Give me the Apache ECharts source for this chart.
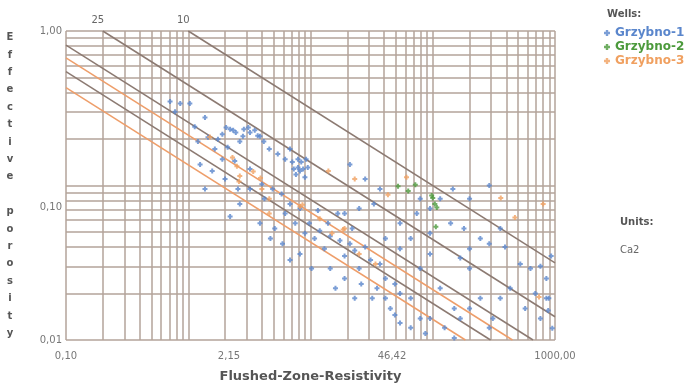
<!DOCTYPE html>
<html>
<head>
<meta charset="utf-8">
<script src="https://cdn.jsdelivr.net/npm/echarts@6/dist/echarts.min.js"></script>
<style>
  html, body { margin: 0; padding: 0; background: #ffffff; }
  #chart { width: 685px; height: 388px; }
</style>
</head>
<body>
<div id="chart"></div>
<script>
// Axis tick values (log scale, thirds of the 0.1–1000 range) and grid positions
const xTickValues = [0.1, 2.1544, 46.4159, 1000];
const yTickValues = [0.01, 0.1, 1];
const xGridValues = [0.2, 0.3, 0.4, 0.5, 0.6, 0.7, 0.8, 0.9, 1, 2, 3, 4, 5, 6, 7, 8, 9,
  10, 20, 30, 40, 50, 60, 70, 80, 90, 100, 200, 300, 400, 500, 600, 700, 800, 900];
const yGridValues = [0.02, 0.03, 0.04, 0.05, 0.06, 0.07, 0.08, 0.09, 0.1,
  0.2, 0.3, 0.4, 0.5, 0.6, 0.7, 0.8, 0.9];

// Reference lines: [start, end] in (Rxo, porosity)
const lineLabels = ['25', '10', '', '', '', ''];
const lineKinds = ['dark', 'dark', 'dark', 'orange', 'dark', 'orange'];
const lineStarts = [[0.2, 1.0], [1.0, 1.0], [0.1, 0.81], [0.1, 0.67], [0.1, 0.545], [0.1, 0.43]];
const lineEnds = [[1000, 0.01414], [1000, 0.0316], [661, 0.01], [449, 0.01], [297, 0.01], [185, 0.01]];

// Well names
const wellNames = ['Grzybno-1', 'Grzybno-2', 'Grzybno-3'];

// Grzybno-1 samples: Rxo, effective porosity
const well1Rxo = [0.71, 0.86, 1.03, 0.78, 1.37, 1.13, 1.45, 1.2, 1.9, 2.2, 2.45, 2.85, 3.2, 3.7, 4.15,
  2.64, 2.1, 1.65, 1.9, 2.4, 3.2, 4.6, 5.4, 6.2, 7.1, 7.9, 8.7, 7.6, 9.0, 6.8,
  4.0, 4.9, 5.8, 3.2, 6.8, 8.2, 2.64, 2.2, 3.86, 5.1, 9.8, 11.9, 14.5, 10.8, 17.4,
  21, 13, 23, 28, 19, 31, 37, 25, 41, 49, 35, 54, 66, 45, 79,
  54, 87, 23, 16, 10.2, 8.2, 5.9, 19, 25, 33, 54, 74, 115, 146, 200,
  290, 357, 245, 168, 200, 520, 630, 760, 850, 690, 890, 570, 760, 430, 357,
  245, 310, 150, 115, 79, 95, 54, 41, 66, 95,
  2.04, 2.33, 3.1, 3.5, 3.86, 2.8, 1.75, 7.9, 8.4, 9.2, 8.2, 9.5, 7.3,
  1.25, 1.57, 2.0, 2.55, 1.37, 4.2, 6.2, 7.5, 9.0, 11.5, 13.9, 16.7, 21.9,
  4.7, 6.8, 14.5, 19, 26, 32, 41, 49, 66, 95, 125, 150, 168, 200, 290,
  21, 28, 37, 79, 95, 140, 180, 290, 390, 200, 930, 850, 950, 880];
const well1Por = [0.35, 0.34, 0.34, 0.30, 0.275, 0.24, 0.205, 0.193, 0.215, 0.231, 0.22, 0.231, 0.22, 0.21, 0.193,
  0.193, 0.177, 0.172, 0.148, 0.144, 0.128, 0.172, 0.16, 0.148, 0.142, 0.131, 0.128, 0.118, 0.113, 0.172,
  0.102, 0.095, 0.088, 0.095, 0.076, 0.071, 0.076, 0.063, 0.057, 0.0526, 0.057, 0.051, 0.047, 0.0454, 0.044,
  0.042, 0.039, 0.038, 0.040, 0.035, 0.033, 0.031, 0.029, 0.025, 0.023, 0.0216, 0.020, 0.0186, 0.016, 0.0138,
  0.0129, 0.011, 0.0186, 0.0216, 0.029, 0.036, 0.042, 0.066, 0.071, 0.076, 0.057, 0.066, 0.082, 0.095, 0.082,
  0.1, 0.0526, 0.0454, 0.034, 0.029, 0.031, 0.029, 0.030, 0.025, 0.020, 0.0186, 0.016, 0.0138, 0.0216, 0.0186,
  0.0186, 0.0138, 0.016, 0.0216, 0.029, 0.036, 0.039, 0.0454, 0.0454, 0.049,
  0.237, 0.228, 0.237, 0.228, 0.208, 0.208, 0.199, 0.148, 0.142, 0.148, 0.124, 0.131, 0.128,
  0.137, 0.124, 0.110, 0.095, 0.095, 0.082, 0.066, 0.057, 0.049, 0.069, 0.057, 0.066, 0.0526,
  0.0454, 0.033, 0.029, 0.025, 0.023, 0.0186, 0.0186, 0.0145, 0.012, 0.0138, 0.012, 0.0103, 0.0138, 0.016, 0.012,
  0.137, 0.11, 0.095, 0.082, 0.071, 0.057, 0.0526, 0.042, 0.040, 0.039, 0.035, 0.0186, 0.0119, 0.0155];

// Grzybno-2 samples
const well2Rxo = [63, 52, 72, 100, 104, 108, 98, 106];
const well2Por = [0.092, 0.099, 0.101, 0.083, 0.076, 0.072, 0.086, 0.054];

// Grzybno-3 samples
const well3Rxo = [14, 23, 61, 43, 8.6, 18.5, 360, 470, 800, 740, 1.5, 2.3, 2.5, 3.9, 3.4, 2.6,
  2.64, 4.0, 4.6, 8.2, 11.9, 15, 19, 25, 34, 4.6];
const well3Por = [0.124, 0.11, 0.113, 0.087, 0.075, 0.052, 0.083, 0.062, 0.076, 0.019, 0.206, 0.152, 0.133, 0.112, 0.123, 0.106,
  0.115, 0.095, 0.082, 0.073, 0.061, 0.049, 0.0526, 0.036, 0.031, 0.066];

const colors = { blue: '#5a86cc', green: '#4c9a3c', orange: '#f0a060', dark: '#8c7a72', lightOrange: '#ee9e6a', grid: '#b3a39a' };
const plusIcon = 'path://M1.5,0h2v1.5h1.5v2h-1.5v1.5h-2v-1.5h-1.5v-2h1.5z';

function zip(a, b) { return a.map((v, i) => [v, b[i]]); }
function fmt(v) { return Number(v).toFixed(2).replace('.', ','); }

const chart = echarts.init(document.getElementById('chart'), null, { renderer: 'canvas' });

const lineSeries = lineStarts.map((s, i) => ({
  type: 'line',
  name: 'ref' + i,
  silent: true,
  symbol: 'circle',
  symbolSize: 1,
  showSymbol: true,
  itemStyle: { color: 'rgba(0,0,0,0)' },
  lineStyle: { color: lineKinds[i] === 'dark' ? colors.dark : colors.lightOrange, width: 1.5 },
  z: 3,
  data: [
    { value: s, label: { show: !!lineLabels[i], formatter: lineLabels[i], position: 'top', distance: 5,
      offset: [-5, 0], color: '#666', fontSize: 10, fontFamily: 'DejaVu Sans' } },
    { value: lineEnds[i] }
  ]
}));

// grid lines carried by the first reference line as mark lines
lineSeries[0].markLine = {
  silent: true,
  symbol: 'none',
  label: { show: false },
  lineStyle: { color: colors.grid, width: 1.5, type: 'solid' },
  z: 1,
  data: xGridValues.map(v => ({ xAxis: v })).concat(yGridValues.map(v => ({ yAxis: v })))
    .concat([{ xAxis: 0.1 }, { xAxis: 1000 }, { yAxis: 0.01 }, { yAxis: 1 }])
};

const scatterBase = {
  type: 'scatter',
  symbol: plusIcon,
  symbolSize: 5,
  z: 5
};

const option = {
  backgroundColor: '#ffffff',
  animation: false,
  grid: { left: 66, right: 130, top: 31, bottom: 43, containLabel: false },
  title: [
    { text: 'Wells:', left: 602, top: 4, textStyle: { fontSize: 10, fontWeight: 'bold', color: '#555', fontFamily: 'DejaVu Sans' } },
    { text: 'Units:', left: 615, top: 212, textStyle: { fontSize: 10, fontWeight: 'bold', color: '#555', fontFamily: 'DejaVu Sans' } },
    { text: 'Ca2', left: 615, top: 240, textStyle: { fontSize: 10, fontWeight: 'normal', color: '#666', fontFamily: 'DejaVu Sans' } }
  ],
  legend: {
    left: 599, top: 22, orient: 'vertical', itemGap: 2, itemWidth: 6, itemHeight: 6,
    icon: plusIcon,
    textStyle: { fontSize: 12, fontWeight: 'bold', fontFamily: 'DejaVu Sans' },
    data: [
      { name: wellNames[0], textStyle: { color: colors.blue } },
      { name: wellNames[1], textStyle: { color: colors.green } },
      { name: wellNames[2], textStyle: { color: colors.orange } }
    ]
  },
  xAxis: {
    type: 'log', logBase: 10, min: 0.1, max: 1000, interval: 4 / 3,
    name: 'Flushed-Zone-Resistivity', nameLocation: 'middle', nameGap: 30,
    nameTextStyle: { fontSize: 13, fontWeight: 'bold', color: '#555', fontFamily: 'DejaVu Sans' },
    axisLine: { show: false }, axisTick: { show: false }, splitLine: { show: false },
    axisLabel: { margin: 11, fontSize: 10, color: '#777', fontFamily: 'DejaVu Sans',
      showMinLabel: true, showMaxLabel: true, formatter: fmt }
  },
  yAxis: {
    type: 'log', logBase: 10, min: 0.01, max: 1, interval: 1,
    name: 'Effective porosity'.split('').join('\n'), nameLocation: 'middle', nameGap: 56, nameRotate: 0,
    nameTextStyle: { fontSize: 10, fontWeight: 'bold', color: '#555', lineHeight: 17.4, align: 'center', fontFamily: 'DejaVu Sans' },
    axisLine: { show: false }, axisTick: { show: false }, splitLine: { show: false },
    axisLabel: { margin: 4, fontSize: 10, color: '#777', fontFamily: 'DejaVu Sans',
      formatter: v => (Math.abs(v - 0.1) < 1e-9 ? '{low|' + fmt(v) + '}' : fmt(v)),
      rich: { low: { padding: [44, 0, 0, 0], fontSize: 10, color: '#777', fontFamily: 'DejaVu Sans' } } }
  },
  series: lineSeries.concat([
    Object.assign({}, scatterBase, { name: wellNames[0], itemStyle: { color: colors.blue }, data: zip(well1Rxo, well1Por) }),
    Object.assign({}, scatterBase, { name: wellNames[1], itemStyle: { color: colors.green }, data: zip(well2Rxo, well2Por) }),
    Object.assign({}, scatterBase, { name: wellNames[2], itemStyle: { color: colors.orange }, data: zip(well3Rxo, well3Por) })
  ])
};

chart.setOption(option);
</script>
</body>
</html>
